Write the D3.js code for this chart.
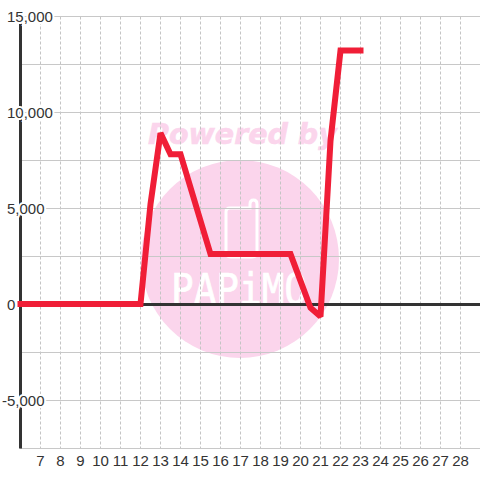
<!DOCTYPE html>
<html>
<head>
<meta charset="utf-8">
<script src="https://cdn.jsdelivr.net/npm/d3@7"></script>
<style>
  html, body { margin: 0; padding: 0; background: #fff; }
  svg { display: block; }
  text { font-family: "Liberation Sans", Arial, sans-serif; }
</style>
</head>
<body>
<script>
var days = [6, 7, 8, 9, 10, 11, 12, 12.5, 13, 13.5, 14, 15.5, 19.5, 20.5, 21, 21.5, 22, 23];
var values = [0, 0, 0, 0, 0, 0, 0, 5200, 8900, 7800, 7800, 2600, 2600, -200, -650, 8500, 13200, 13200];
var xTicks = [7, 8, 9, 10, 11, 12, 13, 14, 15, 16, 17, 18, 19, 20, 21, 22, 23, 24, 25, 26, 27, 28];
var yLabels = [15000, 10000, 5000, 0, -5000];
var yGrid = [15000, 12500, 10000, 7500, 5000, 2500, 0, -2500, -5000, -7500];

var width = 480, height = 480;

var x = d3.scaleLinear().domain([6, 29]).range([20.5, 480.5]);
var y = d3.scaleLinear().domain([15000, -7500]).range([16.5, 448.5]);

var svg = d3.select("body").append("svg")
    .attr("width", width)
    .attr("height", height);

// watermark sits under the grid
var mark = svg.append("g").attr("class", "watermark");

mark.append("circle")
    .attr("cx", 240)
    .attr("cy", 259)
    .attr("r", 99)
    .style("fill", "#fbd5ec");

mark.append("text")
    .attr("x", 148)
    .attr("y", 144)
    .style("font-family", "DejaVu Sans")
    .style("font-weight", "bold")
    .style("font-style", "italic")
    .style("font-size", "28.5px")
    .style("fill", "#fbd5ec")
    .style("stroke", "#fbd5ec")
    .style("stroke-width", 0.6)
    .text("Powered by");

mark.append("path")
    .attr("d", "M226 252V212Q226 208 230 208H250V204Q250 200 253.5 200Q257 200 257 204V252Q257 257 252 257H231Q226 257 226 252Z")
    .style("fill", "none")
    .style("stroke", "#fff")
    .style("stroke-width", 3);

mark.append("text")
    .attr("x", 171)
    .attr("y", 304)
    .attr("textLength", 136)
    .attr("lengthAdjust", "spacingAndGlyphs")
    .style("font-family", "DejaVu Sans Mono")
    .style("font-size", "42px")
    .style("fill", "#fff")
    .style("stroke", "#fff")
    .style("stroke-width", 0.7)
    .text("PAPiMO");

// grid
svg.append("g").selectAll("line")
    .data(xTicks)
  .enter().append("line")
    .attr("x1", function(d) { return x(d); })
    .attr("x2", function(d) { return x(d); })
    .attr("y1", y(15000))
    .attr("y2", y(-7500))
    .style("stroke", "#c4c4c4")
    .style("stroke-dasharray", "3,2");

svg.append("g").selectAll("line")
    .data(yGrid)
  .enter().append("line")
    .attr("x1", 20)
    .attr("x2", width)
    .attr("y1", function(d) { return y(d); })
    .attr("y2", function(d) { return y(d); })
    .style("stroke", "#c8c8c8");

// axis lines
svg.append("line")
    .attr("x1", x(6))
    .attr("x2", x(6))
    .attr("y1", y(15000))
    .attr("y2", y(-7500))
    .style("stroke", "#333")
    .style("stroke-width", 3);

svg.append("line")
    .attr("x1", 20)
    .attr("x2", width)
    .attr("y1", y(0))
    .attr("y2", y(0))
    .style("stroke", "#333")
    .style("stroke-width", 3);

// labels have a white halo that cuts the axis and grid
svg.append("g").selectAll("text")
    .data(yLabels)
  .enter().append("text")
    .attr("x", function(d) { return d < 0 ? 2 : 7; })
    .attr("y", function(d) { return y(d) + 5.5; })
    .style("font-size", "15px")
    .style("fill", "#333")
    .style("stroke", "#fff")
    .style("stroke-width", 4)
    .style("paint-order", "stroke")
    .text(function(d) { return d3.format(",")(d).replace("\u2212", "-"); });

svg.append("g").selectAll("text")
    .data(xTicks)
  .enter().append("text")
    .attr("x", function(d) { return x(d); })
    .attr("y", 466)
    .attr("text-anchor", "middle")
    .style("font-size", "15px")
    .style("fill", "#333")
    .text(function(d) { return d; });

var line = d3.line()
    .x(function(d, i) { return x(days[i]); })
    .y(function(d) { return y(d) - 0.5; });

svg.append("path")
    .datum(values)
    .attr("d", line)
    .style("fill", "none")
    .style("stroke", "#f01e37")
    .style("stroke-width", 6)
    .style("stroke-linecap", "square")
    .style("stroke-linejoin", "miter")
    .style("stroke-miterlimit", 2);
</script>
</body>
</html>
